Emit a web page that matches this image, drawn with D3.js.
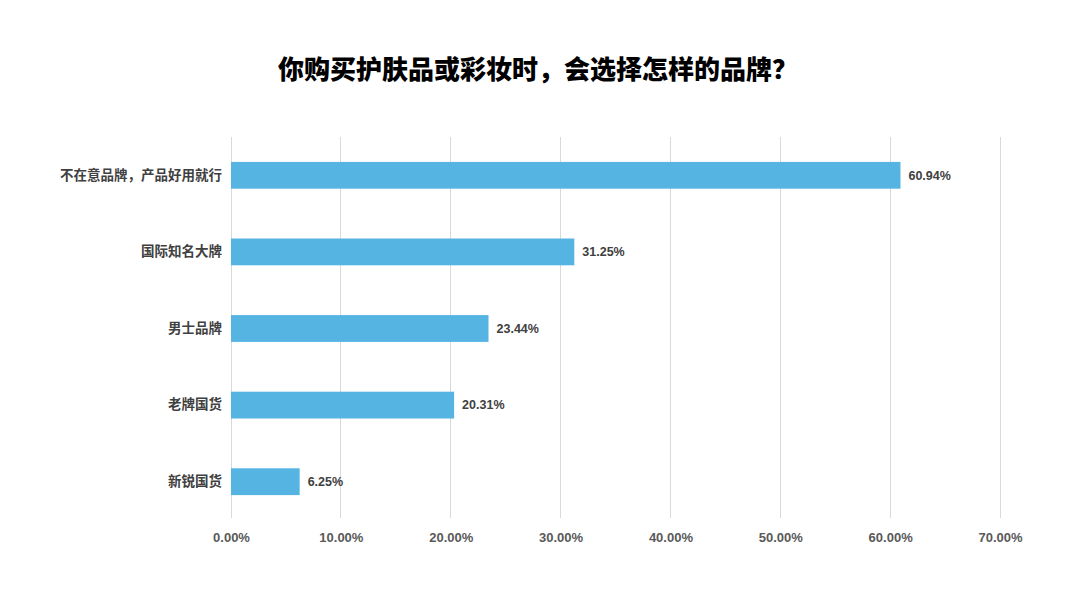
<!DOCTYPE html>
<html><head><meta charset="utf-8">
<script src="https://cdn.jsdelivr.net/npm/d3@7/dist/d3.min.js"></script>
<style>body{margin:0;background:#fff;}svg{display:block;}</style>
</head><body>
<svg id="c" width="1080" height="608"></svg>
<script>
const title = "你购买护肤品或彩妆时，会选择怎样的品牌？";
const categories = ["不在意品牌，产品好用就行","国际知名大牌","男士品牌","老牌国货","新锐国货"];
const values = [60.94, 31.25, 23.44, 20.31, 6.25];
const ticks = [0,10,20,30,40,50,60,70];

const svg = d3.select("#c");
const font = "'Noto Sans CJK SC', 'Liberation Sans', Arial, sans-serif";
const x = d3.scaleLinear().domain([0,70]).range([231,1000]);
const y = d3.scaleBand().domain(categories).range([137,520]).paddingInner(0.65).paddingOuter(0.325);

svg.append("text").attr("x",538).attr("y",79).attr("text-anchor","middle")
  .attr("font-family",font).attr("font-weight","900").attr("font-size",26).attr("fill","#000").text(title);

const g = svg.append("g");
g.selectAll("line.grid").data(ticks).join("line").attr("class","grid")
  .attr("x1",d=>x(d)).attr("x2",d=>x(d)).attr("y1",137).attr("y2",518)
  .attr("stroke","#d9d9d9").attr("stroke-width",1).attr("shape-rendering","crispEdges");

const xAxis = d3.axisBottom(x).tickValues(ticks).tickSize(0).tickFormat(d=>d.toFixed(2)+"%");
const ax = svg.append("g").attr("transform","translate(0,530)").call(xAxis);
ax.select(".domain").remove();
ax.selectAll("text").attr("font-family","'Liberation Sans', Arial, sans-serif").attr("font-weight","bold")
  .attr("font-size",13).attr("fill","#595959").attr("dy","0.71em");

const yAxis = d3.axisLeft(y).tickSize(0).tickPadding(9);
const ay = svg.append("g").attr("transform","translate(231,0)").call(yAxis);
ay.select(".domain").remove();
ay.selectAll("text").attr("font-family",font).attr("font-weight","bold").attr("font-size",13.5).attr("fill","#404040");

svg.selectAll("rect.bar").data(values).join("rect").attr("class","bar")
  .attr("x",x(0)).attr("y",(d,i)=>y(categories[i])).attr("width",d=>x(d)-x(0)).attr("height",y.bandwidth())
  .attr("fill","#56b4e3");

svg.selectAll("text.val").data(values).join("text").attr("class","val")
  .attr("x",d=>x(d)+8).attr("y",(d,i)=>y(categories[i])+y.bandwidth()/2).attr("dy","0.35em")
  .attr("font-family","'Liberation Sans', Arial, sans-serif").attr("font-weight","bold").attr("font-size",12.5).attr("fill","#404040")
  .text(d=>d.toFixed(2)+"%");
</script>
</body></html>
